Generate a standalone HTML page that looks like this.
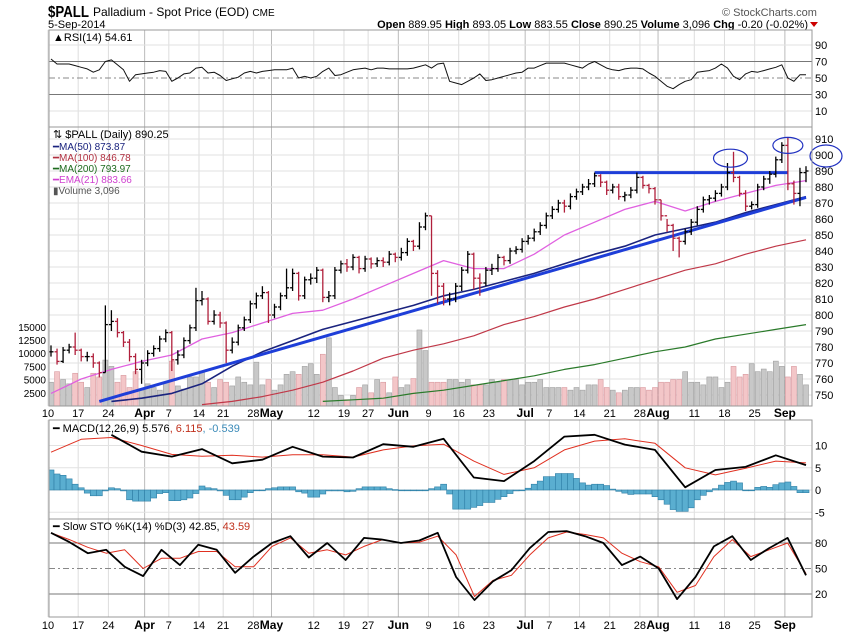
<!DOCTYPE html>
<html><head><meta charset="utf-8"><style>
body{margin:0;background:#fff;}
svg{display:block;font-family:"Liberation Sans",Arial,sans-serif;}
</style></head><body>
<svg id="chart" width="850" height="633" viewBox="0 0 850 633" xmlns="http://www.w3.org/2000/svg">
<defs>
<clipPath id="cMain"><rect x="49" y="127" width="763" height="279"/></clipPath>
<clipPath id="cRsi"><rect x="49" y="30" width="763" height="97"/></clipPath>
<clipPath id="cMacd"><rect x="49" y="420" width="763" height="99"/></clipPath>
<clipPath id="cSto"><rect x="49" y="519" width="763" height="98"/></clipPath>
</defs>
<text x="48" y="17" font-size="16" font-weight="bold" textLength="41" lengthAdjust="spacingAndGlyphs">$PALL</text>
<text x="93" y="16" font-size="12">Palladium - Spot Price (EOD) <tspan font-size="10">CME</tspan></text>
<text x="48" y="28" font-size="11">5-Sep-2014</text>
<text x="722" y="16" font-size="11" fill="#555">© StockCharts.com</text>
<text x="808" y="28" font-size="11" text-anchor="end"><tspan font-weight="bold">Open</tspan> 889.95 <tspan font-weight="bold">High</tspan> 893.05 <tspan font-weight="bold">Low</tspan> 883.55 <tspan font-weight="bold">Close</tspan> 890.25 <tspan font-weight="bold">Volume</tspan> 3,096 <tspan font-weight="bold">Chg</tspan> -0.20 (-0.02%)</text>
<polygon points="810,22 818,22 814,27" fill="#c00"/>
<g id="grid"></g>
<g id="marks"></g>
<rect x="49" y="30" width="763" height="97" fill="none" stroke="#999"/>
<rect x="49" y="127" width="763" height="279" fill="none" stroke="#999"/>
<rect x="49" y="420" width="763" height="99" fill="none" stroke="#999"/>
<rect x="49" y="519" width="763" height="98" fill="none" stroke="#999"/>
<text x="53" y="41" font-size="11">▲RSI(14) 54.61</text>
<text x="53" y="138" font-size="11">⇅ $PALL (Daily) 890.25</text>
<text x="53" y="150" font-size="10" fill="#1a237e">━MA(50) 873.87</text>
<text x="53" y="161" font-size="10" fill="#b03040">━MA(100) 846.78</text>
<text x="53" y="172" font-size="10" fill="#1e6b1e">━MA(200) 793.97</text>
<text x="53" y="183" font-size="10" fill="#d040d0">━EMA(21) 883.66</text>
<text x="53" y="194" font-size="10" fill="#555">▮Volume 3,096</text>
<text x="53" y="432" font-size="11">━ MACD(12,26,9) 5.576<tspan fill="#c0301c">, 6.115</tspan><tspan fill="#3a8ab8">, -0.539</tspan></text>
<text x="53" y="530" font-size="11">━ Slow STO %K(14) %D(3) 42.85,<tspan fill="#c0301c"> 43.59</tspan></text>
</svg>
<script>
const closes=[777,771,778,780,778,774,774,770,764,794,
796,789,783,774,766,770,776,779,785,789,
772,775,784,792,809,810,796,800,795,778,
783,792,797,807,812,814,800,805,812,817,
826,812,822,823,828,811,812,828,832,830,
836,829,835,832,834,833,838,836,
839,846,843,855,862,826,818,810,810,818,
828,838,823,820,828,829,836,834,840,841,846,
848,852,856,862,866,870,868,874,877,880,882,
887,883,878,880,874,875,878,886,881,879,872,
862,856,848,846,852,858,866,872,873,876,880,
889,886,876,868,869,880,885,888,897,906,882,876,889,890];
const highs=[781,779,780,782,789,779,777,776,771,806,803,798,790,785,776,772,778,781,787,791,
790,778,786,794,817,815,811,803,802,796,786,794,799,809,814,818,815,807,814,829,
829,827,824,826,830,829,815,830,834,835,838,837,837,836,836,836,840,839,842,848,
847,858,864,862,828,820,814,820,830,840,839,826,830,832,838,837,842,843,848,850,
854,858,864,868,872,872,876,879,882,885,889,888,884,882,882,877,880,889,887,882,
880,872,860,857,849,854,860,868,874,875,878,882,895,902,887,878,871,882,887,890,
899,908,911,884,892,893];
const lows=[774,769,770,776,775,771,771,767,761,764,790,786,780,771,763,757,768,774,777,783,
765,769,773,782,790,806,794,794,792,770,776,781,790,795,804,810,795,798,803,810,
815,809,810,819,820,808,808,810,826,827,828,826,827,829,830,830,831,833,834,837,
840,841,853,812,807,806,806,808,815,826,816,812,818,825,827,831,832,838,839,844,
846,850,854,860,864,864,866,872,875,878,880,880,875,876,872,871,873,876,879,876,
869,859,852,840,836,844,850,856,864,869,871,874,878,883,874,865,866,867,878,882,
886,895,878,869,868,883];
const volumes=[4.5,6.5,5.0,4.2,6.2,4.5,3.5,6.2,5.5,8.7,7.5,4.5,5.8,3.5,6.5,3.0,4.2,3.5,3.0,4.5,
8.5,3.8,3.2,5.5,5.5,6.5,4.5,3.5,5.0,4.5,3.8,5.5,4.5,4.0,8.3,4.0,5.0,3.0,4.0,6.0,
6.5,6.0,7.5,8.0,6.0,9.8,12.9,3.5,2.0,1.2,2.0,3.5,4.0,2.5,5.0,4.5,2.5,5.5,3.5,4.0,
5.2,14.4,10.5,4.5,4.5,4.5,5.0,5.0,4.5,5.0,4.0,4.0,4.0,5.0,4.5,5.0,5.0,5.0,4.0,4.5,
4.5,5.0,3.5,3.5,3.5,3.5,3.0,3.5,3.0,4.0,4.0,5.0,3.5,3.0,2.5,3.0,3.5,3.5,3.5,3.0,
3.5,4.5,4.5,5.0,5.0,6.5,4.5,4.5,4.0,5.5,5.5,3.5,4.5,7.5,5.5,6.0,8.0,6.5,7.0,6.5,
8.5,7.5,5.5,7.5,6.0,4.0];
// moving averages sampled every 5 sessions (index 0,5,...,125)
const ema21=[751,760,766,771,775,785,789,795,801,803,810,818,826,834,829,829,838,850,858,866,871,865,871,876,881,884];
const ma50=[null,null,746,748,751,757,768,777,784,791,796,801,806,812,816,821,826,832,838,843,850,854,858,864,869,874];
const ma100=[null,null,null,null,null,744,746,749,753,758,765,773,778,782,787,794,799,805,810,816,822,828,832,838,843,847];
const ma200=[null,null,null,null,null,null,null,null,null,746,747,748,751,753,756,759,762,766,769,773,777,780,785,788,791,794];
const rsi=[73,67,67,67,65,63,61,57,60,70,72,66,60,46,54,55,56,57,59,58,46,50,55,56,62,63,56,57,53,47,
49,51,56,58,56,58,59,60,60,60,62,50,52,50,52,58,62,53,54,57,60,61,62,60,62,62,61,61,61,61,
62,64,66,62,67,68,46,44,42,46,50,55,47,48,50,52,54,56,57,62,62,65,68,68,68,68,66,64,62,67,
70,66,62,60,59,61,62,62,61,56,52,46,40,37,42,46,48,57,58,59,62,67,62,52,48,55,58,57,59,61,
63,66,50,46,54,54];
const macdLine=[null,null,12.4,8.6,7.5,9.2,6.0,6.8,9.7,7.5,7.3,10.3,9.7,11.5,2.8,2.0,6.5,12.0,12.4,10.2,9.0,0.6,4.5,5.2,7.8,5.6];
const macdSignal=[8.5,11.4,11.8,10.0,8.0,7.6,7.8,7.4,7.9,7.9,7.4,9.0,9.9,10.3,6.5,3.5,5.0,9.0,11.0,11.5,10.5,5.0,3.4,4.9,6.5,6.1];
const macdHist=[4.5,3.6,3.3,2.5,1.3,0.5,-0.7,-1.3,-1.3,-0.2,0.5,0.3,-0.2,-2.2,-2.5,-2.5,-2.5,-1.8,-0.8,-0.6,
-2.4,-2.4,-2.2,-1.8,-0.8,0.9,0.5,0.3,-0.2,-1.2,-2.2,-2.2,-1.6,-0.6,0,0,0.3,0.5,0.7,0.7,
0.7,-0.4,-0.7,-1.6,-1.6,-0.9,-0.2,-0.2,-0.2,-0.4,-0.3,0.3,0.7,0.7,0.7,0.7,0.3,0.1,0,-0.1,
-0.1,0,0,0.3,0.7,1.3,-0.9,-4.3,-4.3,-4.3,-3.9,-3.5,-2.8,-2.8,-2.1,-1.5,-0.8,-0.2,-0.1,0.4,
1.3,2.0,3.0,3.0,3.7,3.7,3.7,2.6,1.6,1.1,1.3,1.3,1.0,0.2,-0.3,-0.7,-1.0,-0.9,-0.9,-0.9,
-1.5,-2.2,-3.2,-4.4,-4.8,-4.8,-4.0,-2.2,-1.2,-0.4,0.3,1.1,1.7,2.0,1.6,0,0,0.6,0.8,0.6,
1.2,1.6,1.8,0.8,-0.6,-0.6];
// stochastics sampled at 42 evenly spaced sessions
const stoK=[92,81,68,72,52,41,72,54,78,72,45,64,80,88,63,80,60,86,84,80,83,92,40,13,35,48,74,93,94,88,80,54,64,50,14,40,76,88,60,74,86,42];
const stoD=[92,84,75,68,72,50,62,62,70,70,52,52,76,86,68,72,66,76,84,80,81,88,66,17,36,42,66,86,93,90,86,68,58,52,22,30,64,84,64,72,80,44];
const xLabels=["10","17","24","Apr","7","14","21","28","May","12","19","27","Jun","9","16","23","Jul","7","14","21","28","Aug","11","18","25","Sep"];
const xLabelIdx=[0,5,10,16,20,25,29,34,37,44,49,53,58,63,68,73,79,83,88,93,98,101,107,112,117,122];
const priceTicks=[750,760,770,780,790,800,810,820,830,840,850,860,870,880,890,900,910];
const volTicks=[2500,5000,7500,10000,12500,15000];
const rsiTicks=[10,30,50,70,90];
const macdTicks=[-5,0,5,10];
const stoTicks=[20,50,80];
const trendline=[[8,746],[125,873.5]];
const resistance=[[90,889],[122,889]];

const NS="http://www.w3.org/2000/svg";
const N=closes.length;
const xOf=i=>51+i*(755/125);
const yP=p=>395-(p-750)*1.6;
const yV=v=>406-v*5.28;
const yR=r=>78-(r-50)*0.825;
const yM=m=>490-m*4.45;
const yS=s=>543-(s-80)*0.85;
const grid=document.getElementById('grid');
const marks=document.getElementById('marks');
function mk(tag,attrs,parent){const e=document.createElementNS(NS,tag);for(const k in attrs)e.setAttribute(k,attrs[k]);(parent||marks).appendChild(e);return e;}
const panels=[[30,127],[127,406],[420,519],[519,617]];
xLabelIdx.forEach((idx,j)=>{
  const month=isNaN(+xLabels[j]);
  panels.forEach(p=>{
    const l=mk('line',{x1:xOf(idx)-3,x2:xOf(idx)-3,y1:p[0],y2:p[1],stroke:month?'#bbb':'#ddd','stroke-width':1},grid);
    
    
  });
  [413,625].forEach(y=>{
    const t=mk('text',{x:xOf(idx)-3,y:y+4,'font-size':month?12:11,'font-weight':month?'bold':'normal','text-anchor':'middle'});
    t.textContent=xLabels[j];
    
    
  });
});
priceTicks.forEach(p=>{
  const l=mk('line',{x1:49,x2:812,y1:yP(p),y2:yP(p),stroke:'#e2e2e2'},grid);
  
  
  const t=mk('text',{x:815,y:yP(p)+4,'font-size':11});
  t.textContent=p;
  
  
});
volTicks.forEach(v=>{
  const t=mk('text',{x:46,y:yV(v/1000)+4,'font-size':10,'text-anchor':'end'});
  t.textContent=v;
  
  
});
rsiTicks.forEach(r=>{
  const l=mk('line',{x1:49,x2:812,y1:yR(r),y2:yR(r),stroke:(r==30||r==70)?'#777':(r==50?'#888':'#e2e2e2'),'stroke-dasharray':r==50?'6,3,2,3':'none'},grid);
  
  
  const t=mk('text',{x:815,y:yR(r)+4,'font-size':11});
  t.textContent=r;
  
  
});
macdTicks.forEach(m=>{
  const l=mk('line',{x1:49,x2:812,y1:yM(m),y2:yM(m),stroke:'#e2e2e2'},grid);
  
  
  const t=mk('text',{x:815,y:yM(m)+4,'font-size':11});
  t.textContent=m;
  
  
});
stoTicks.forEach(s=>{
  const l=mk('line',{x1:49,x2:812,y1:yS(s),y2:yS(s),stroke:s==50?'#888':'#777','stroke-dasharray':s==50?'6,3,2,3':'none'},grid);
  
  
  const t=mk('text',{x:815,y:yS(s)+4,'font-size':11});
  t.textContent=s;
  
  
});
const gMain=mk('g',{'clip-path':'url(#cMain)'});
closes.forEach((c,i)=>{
  const down=i>0&&c<closes[i-1];
  const r=mk('rect',{x:xOf(i)-2.5,y:yV(volumes[i]),width:5,height:406-yV(volumes[i]),fill:down?'#f3c6c8':'#c8c8c8',stroke:down?'#d89aa0':'#a0a0a0','stroke-width':0.6},gMain);
  
  
});
function sampledLine(arr,step,yf,color,w,parent,name){
  let d='';let pen=false;
  arr.forEach((v,k)=>{if(v==null){pen=false;return;}const idx=Math.min(k*step,N-1);d+=(pen?'L':'M')+xOf(idx).toFixed(1)+','+yf(v).toFixed(1);pen=true;});
  const p=mk('path',{d:d,fill:'none',stroke:color,'stroke-width':w,'stroke-linejoin':'round'},parent);
  
  
}
sampledLine(ma200,5,yP,'#2a7a2a',1.2,gMain,'ma200-line');
sampledLine(ma100,5,yP,'#c03848',1.2,gMain,'ma100-line');
sampledLine(ma50,5,yP,'#1a237e',1.6,gMain,'ma50-line');
sampledLine(ema21,5,yP,'#e060e0',1.3,gMain,'ema21-line');
const tl=mk('line',{x1:xOf(trendline[0][0]),y1:yP(trendline[0][1]),x2:xOf(trendline[1][0]),y2:yP(trendline[1][1]),stroke:'#1e3ed8','stroke-width':3},gMain);


const rl=mk('line',{x1:xOf(resistance[0][0]),y1:yP(resistance[0][1]),x2:xOf(resistance[1][0]),y2:yP(resistance[1][1]),stroke:'#1e3ed8','stroke-width':3},gMain);


closes.forEach((c,i)=>{
  const o=i>0?closes[i-1]:c;
  const down=i>0&&c<closes[i-1];
  const col=down?'#b0203c':'#000';
  const x=xOf(i);
  const g=mk('g',{stroke:col,'stroke-width':1.3},gMain);
  
  
  mk('line',{x1:x,x2:x,y1:yP(highs[i]),y2:yP(lows[i])},g);
  mk('line',{x1:x-2.5,x2:x,y1:yP(o),y2:yP(o)},g);
  mk('line',{x1:x,x2:x+2.5,y1:yP(c),y2:yP(c)},g);
});
[[112.5,898,17,9],[122,906,15,8]].forEach(e=>{
  const el=mk('ellipse',{cx:xOf(e[0]),cy:yP(e[1]),rx:e[2],ry:e[3],fill:'none',stroke:'#2030c0','stroke-width':1.2});
  
  
});
const axE=mk('ellipse',{cx:826,cy:yP(900)+1,rx:16,ry:11,fill:'none',stroke:'#2030c0','stroke-width':1.2});


const gR=mk('g',{'clip-path':'url(#cRsi)'});
sampledLine(rsi,1,yR,'#111',1,gR,'rsi-line');
const gM=mk('g',{'clip-path':'url(#cMacd)'});
macdHist.forEach((h,i)=>{
  const y0=yM(0),y1=yM(h);
  const r=mk('rect',{x:xOf(i)-3,y:Math.min(y0,y1),width:6,height:Math.max(0.8,Math.abs(y1-y0)),fill:'#5aaed0',stroke:'#2f7fa6','stroke-width':0.6},gM);
  
  
});
sampledLine(macdSignal,5,yM,'#e03020',1,gM,'macd-signal-line');
sampledLine(macdLine,5,yM,'#000',1.8,gM,'macd-line');
const gS=mk('g',{'clip-path':'url(#cSto)'});
const stoStep=125/41;
sampledLine(stoD,stoStep,yS,'#e03020',1,gS,'stochastic-d-line');
sampledLine(stoK,stoStep,yS,'#000',1.8,gS,'stochastic-k-line');
</script>
</body></html>
